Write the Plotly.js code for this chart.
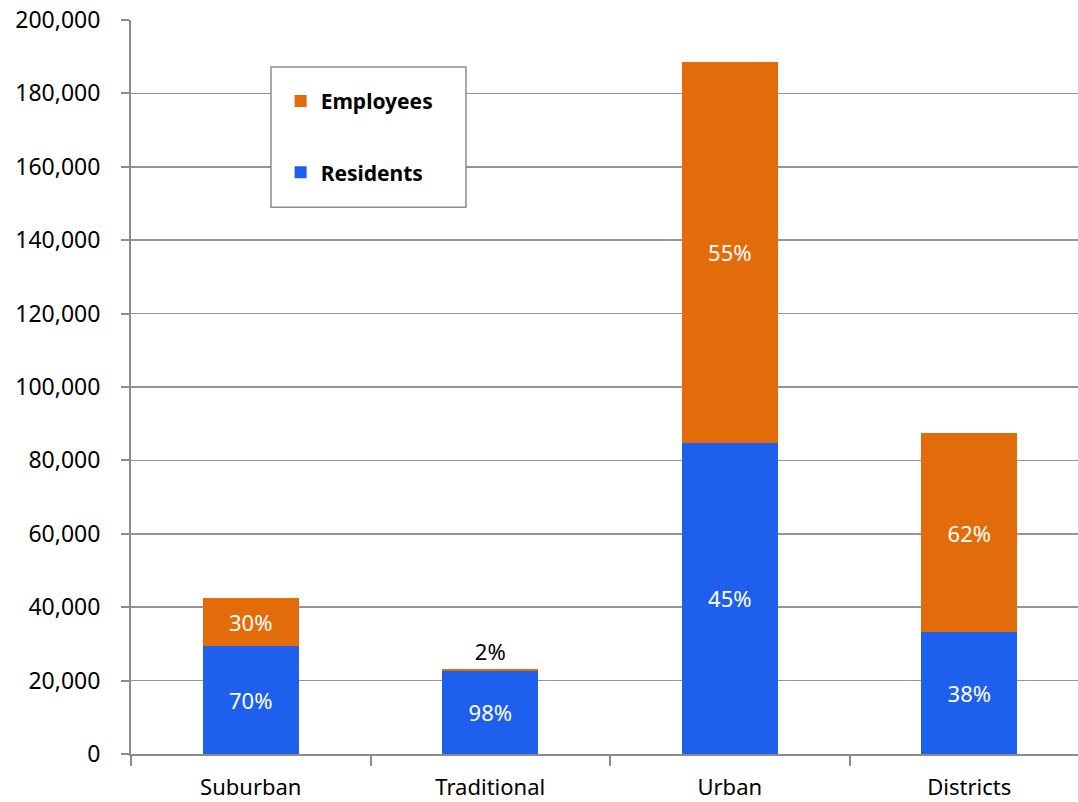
<!DOCTYPE html>
<html>
<head>
<meta charset="utf-8">
<script src="https://cdn.plot.ly/plotly-3.0.1.min.js"></script>
<style>html,body{margin:0;padding:0;background:#fff;}#chart{width:1078px;height:802px;}</style>
</head>
<body>
<div id="chart"></div>
<script>
const categories = ["Suburban", "Traditional", "Urban", "Districts"];
const residents = [29500, 22700, 84800, 33200];
const employees = [13000, 500, 103800, 54300];
const residentLabels = ["70%", "98%", "45%", "38%"];
const employeeLabels = ["30%", "2%", "55%", "62%"];
const yTickVals = [0, 20000, 40000, 60000, 80000, 100000, 120000, 140000, 160000, 180000, 200000];

const FONT = "'Noto Sans', 'Open Sans', sans-serif";

const traces = [
  {
    type: "bar", name: "Residents", x: categories, y: residents,
    text: residentLabels, textposition: "inside", insidetextanchor: "middle",
    textangle: 0, constraintext: "none",
    insidetextfont: {color: "#ffffff", size: 22, family: FONT},
    marker: {color: "#1f5fed"}, width: 0.4, legendgroup: "r", legendrank: 2, hoverinfo: "skip"
  },
  {
    type: "bar", name: "Employees", x: categories, y: employees,
    text: employeeLabels, textposition: ["inside", "outside", "inside", "inside"],
    insidetextanchor: "middle", textangle: 0, constraintext: "none",
    insidetextfont: {color: "#ffffff", size: 22, family: FONT},
    outsidetextfont: {color: "#000000", size: 22, family: FONT},
    marker: {color: "#e36c0a"}, width: 0.4, legendgroup: "e", legendrank: 1, hoverinfo: "skip"
  }
];

const layout = {
  width: 1078, height: 802,
  margin: {l: 131, r: 0, t: 20, b: 48},
  paper_bgcolor: "#ffffff", plot_bgcolor: "#ffffff",
  barmode: "stack",
  font: {family: FONT, size: 22, color: "#000000"},
  showlegend: true,
  legend: {
    x: 0.158, y: 0.917, xanchor: "left", yanchor: "top",
    bgcolor: "rgba(0,0,0,0)", borderwidth: 0,
    traceorder: "grouped", tracegroupgap: 41,
    font: {family: FONT, size: 21, color: "#000000", weight: "bold"},
    itemclick: false
  },
  shapes: [{
    type: "rect", xref: "paper", yref: "paper",
    x0: 0.1478, x1: 0.3537, y0: 0.745, y1: 0.936,
    line: {color: "#8c8c8c", width: 1.5}, fillcolor: "#ffffff", layer: "above"
  }],
  xaxis: {
    type: "category", range: [-0.5, 3.454],
    showgrid: false, zeroline: false,
    showline: true, linecolor: "#8c8c8c", linewidth: 2,
    ticks: "outside", tickson: "boundaries", ticklen: 10, tickcolor: "#8c8c8c", tickwidth: 2,
    ticklabelstandoff: 13,
    tickfont: {family: FONT, size: 22, color: "#000000"},
    fixedrange: true
  },
  yaxis: {
    range: [0, 200000], tickvals: yTickVals, tickformat: ",d",
    showgrid: true, gridcolor: "#959595", gridwidth: 1.5,
    zeroline: false,
    showline: true, linecolor: "#8c8c8c", linewidth: 2,
    ticks: "outside", ticklen: 8, tickcolor: "#8c8c8c", tickwidth: 2,
    ticklabelstandoff: 16,
    tickfont: {family: FONT, size: 23, color: "#000000"},
    fixedrange: true
  },
  bargap: 0.6
};

Plotly.newPlot("chart", traces, layout, {displayModeBar: false, staticPlot: true});
</script>
</body>
</html>
